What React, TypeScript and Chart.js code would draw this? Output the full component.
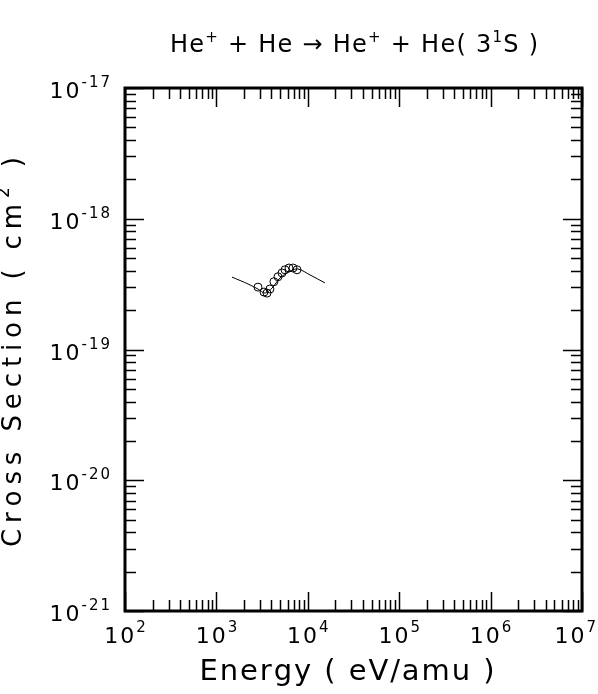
import React, { useEffect, useRef } from "react";
import { Chart, registerables } from "chart.js";
Chart.register(...registerables);

// Theory curve (energy in eV/amu, cross section in cm^2)
const curveEnergy = [1480, 2220, 2850, 3400, 4060, 4960, 6380, 7810, 10570, 15400];
const curveSigma = [3.58e-19, 3.17e-19, 2.9e-19, 2.7e-19, 2.95e-19, 3.52e-19, 3.98e-19, 4.13e-19, 3.72e-19, 3.23e-19];

// Experimental points
const expEnergy = [2850, 3320, 3575, 3850, 4260, 4720, 5220, 5630, 6230, 6890, 7620];
const expSigma = [3.0e-19, 2.75e-19, 2.7e-19, 2.9e-19, 3.3e-19, 3.6e-19, 3.85e-19, 4.07e-19, 4.2e-19, 4.2e-19, 4.07e-19];

// Axis decades
const xDecades = [2, 3, 4, 5, 6, 7];
const yDecades = [-21, -20, -19, -18, -17];

const FONT = '"DejaVu Sans", sans-serif';

type Part = { t: string; sup?: boolean };

function partsWidth(ctx: CanvasRenderingContext2D, parts: Part[], base: number, sup: number, spacing: number) {
  let w = 0;
  let n = 0;
  for (const p of parts) {
    ctx.font = `${p.sup ? sup : base}px ${FONT}`;
    for (const ch of p.t) {
      w += ctx.measureText(ch).width + spacing;
      n++;
    }
  }
  return { w: w - spacing, n };
}

function drawRich(
  ctx: CanvasRenderingContext2D,
  parts: Part[],
  x: number,
  y: number,
  opts: { base: number; sup: number; raise: number; align: "left" | "center" | "right"; spacing?: number; fit?: number; maxRight?: number }
) {
  let spacing = opts.spacing ?? 0;
  if (opts.fit !== undefined) {
    const nat = partsWidth(ctx, parts, opts.base, opts.sup, 0);
    spacing = (opts.fit - nat.w) / Math.max(1, nat.n - 1);
  }
  const { w } = partsWidth(ctx, parts, opts.base, opts.sup, spacing);
  let cx = opts.align === "left" ? x : opts.align === "center" ? x - w / 2 : x - w;
  if (opts.maxRight !== undefined && cx + w > opts.maxRight) cx = opts.maxRight - w;
  ctx.textAlign = "left";
  ctx.textBaseline = "alphabetic";
  for (const p of parts) {
    ctx.font = `${p.sup ? opts.sup : opts.base}px ${FONT}`;
    for (const ch of p.t) {
      ctx.fillText(ch, cx, p.sup ? y - opts.raise : y);
      cx += ctx.measureText(ch).width + spacing;
    }
  }
}

const framePlugin = {
  id: "frame",
  afterDraw(chart: any) {
    const ctx: CanvasRenderingContext2D = chart.ctx;
    const xs = chart.scales.x;
    const ys = chart.scales.y;
    const { left, right, top, bottom } = chart.chartArea;
    ctx.save();
    ctx.fillStyle = "#000";
    ctx.strokeStyle = "#000";

    // ticks
    ctx.lineWidth = 1.5;
    const majorLen = 19;
    const minorLen = 11;
    ctx.beginPath();
    for (let d = xDecades[0]; d <= xDecades[xDecades.length - 1]; d++) {
      for (let m = 1; m <= 9; m++) {
        if (d === xDecades[xDecades.length - 1] && m > 1) break;
        const px = Math.round(xs.getPixelForValue(m * Math.pow(10, d))) + 0.5;
        const len = m === 1 ? majorLen : minorLen;
        ctx.moveTo(px, bottom);
        ctx.lineTo(px, bottom - len);
        ctx.moveTo(px, top);
        ctx.lineTo(px, top + len);
      }
    }
    for (let d = yDecades[0]; d <= yDecades[yDecades.length - 1]; d++) {
      for (let m = 1; m <= 9; m++) {
        if (d === yDecades[yDecades.length - 1] && m > 1) break;
        const py = Math.round(ys.getPixelForValue(m * Math.pow(10, d))) + 0.5;
        const len = m === 1 ? majorLen : minorLen;
        ctx.moveTo(left, py);
        ctx.lineTo(left + len, py);
        ctx.moveTo(right, py);
        ctx.lineTo(right - len, py);
      }
    }
    ctx.stroke();

    // frame
    ctx.lineWidth = 3;
    ctx.strokeRect(left, top, right - left, bottom - top);

    // x tick labels
    for (const d of xDecades) {
      const px = xs.getPixelForValue(Math.pow(10, d));
      drawRich(ctx, [{ t: "10" }, { t: String(d), sup: true }], px, bottom + 32, {
        base: 22,
        sup: 15,
        raise: 11,
        align: "center",
        spacing: 2,
        maxRight: 596,
      });
    }
    // y tick labels
    for (const d of yDecades) {
      const py = ys.getPixelForValue(Math.pow(10, d));
      drawRich(ctx, [{ t: "10" }, { t: String(d), sup: true }], left - 15, py + 10, {
        base: 22,
        sup: 15,
        raise: 11,
        align: "right",
        spacing: 2,
      });
    }

    // title
    drawRich(
      ctx,
      [
        { t: "He" },
        { t: "+", sup: true },
        { t: " + He \u2192 He" },
        { t: "+", sup: true },
        { t: " + He( 3" },
        { t: "1", sup: true },
        { t: "S )" },
      ],
      354,
      52,
      { base: 24, sup: 15, raise: 10, align: "center", fit: 368 }
    );

    // x title
    drawRich(ctx, [{ t: "Energy ( eV/amu )" }], 347, 680, {
      base: 29,
      sup: 18,
      raise: 12,
      align: "center",
      fit: 295,
    });

    // y title
    ctx.save();
    ctx.translate(21, 352);
    ctx.rotate(-Math.PI / 2);
    drawRich(
      ctx,
      [{ t: "Cross Section ( cm" }, { t: "2", sup: true }, { t: " )" }],
      0,
      0,
      { base: 26, sup: 17, raise: 12, align: "center", fit: 390 }
    );
    ctx.restore();

    ctx.restore();
  },
};

export default function App() {
  const ref = useRef<HTMLCanvasElement | null>(null);
  useEffect(() => {
    document.body.style.margin = "0";
    const canvas = ref.current;
    if (!canvas) return;
    const chart = new Chart(canvas, {
      type: "scatter",
      data: {
        datasets: [
          {
            label: "theory",
            data: curveEnergy.map((e, i) => ({ x: e, y: curveSigma[i] })),
            showLine: true,
            borderColor: "#000",
            borderWidth: 1,
            pointRadius: 0,
            fill: false,
            tension: 0.3,
          },
          {
            label: "experiment",
            data: expEnergy.map((e, i) => ({ x: e, y: expSigma[i] })),
            showLine: false,
            borderColor: "#000",
            backgroundColor: "rgba(0,0,0,0)",
            borderWidth: 1,
            pointRadius: 4,
            pointStyle: "circle",
          },
        ],
      },
      options: {
        animation: false,
        responsive: false,
        maintainAspectRatio: false,
        layout: { padding: { left: 125, right: 16, top: 88, bottom: 83 } },
        plugins: { legend: { display: false }, tooltip: { enabled: false }, title: { display: false } },
        scales: {
          x: { type: "logarithmic", min: 1e2, max: 1e7, display: false },
          y: { type: "logarithmic", min: 1e-21, max: 1e-17, display: false },
        },
      },
      plugins: [framePlugin],
    });
    return () => chart.destroy();
  }, []);
  return (
    <div style={{ position: "absolute", left: 0, top: 0, width: 598, height: 694, background: "#fff" }}>
      <canvas ref={ref} width={598} height={694} />
    </div>
  );
}
